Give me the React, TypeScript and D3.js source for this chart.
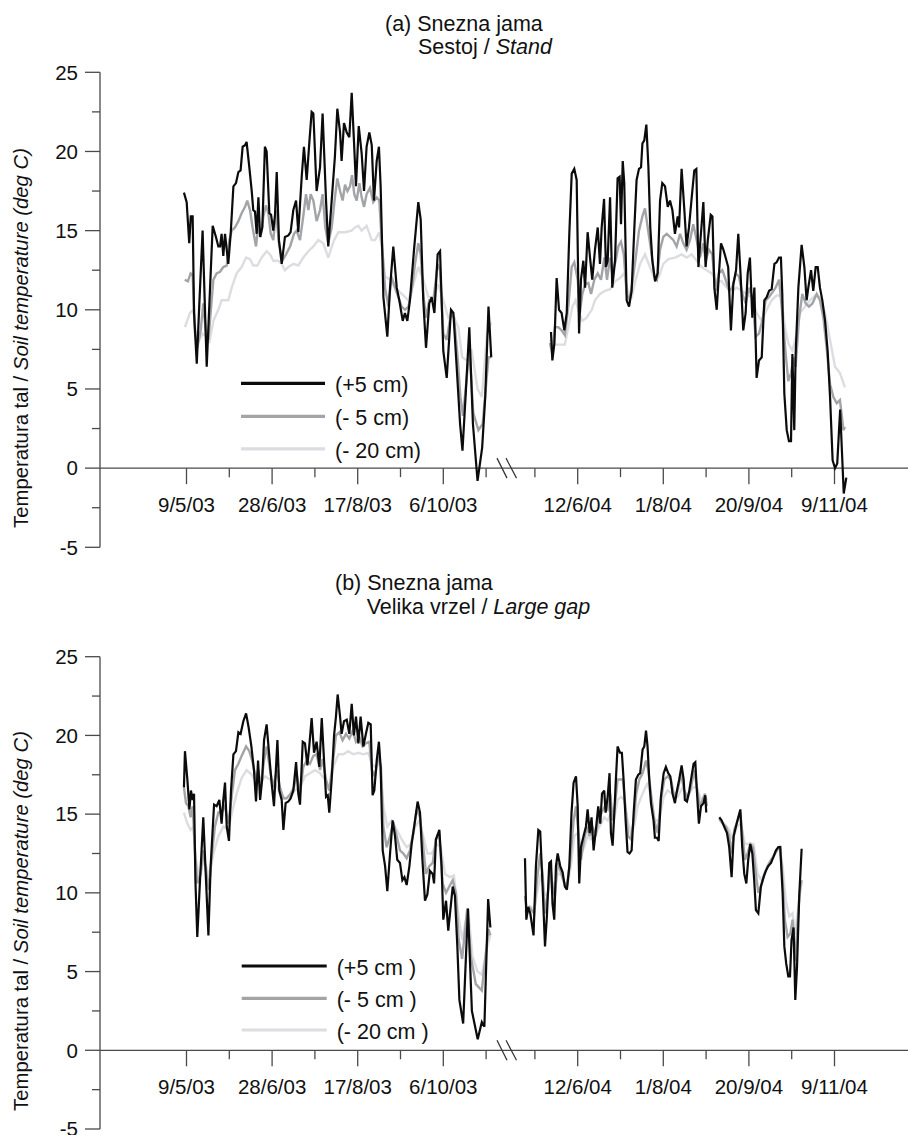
import React from "react";
import * as d3 from "d3";

type Pt = [number, number | null];

// ---------- labels ----------
const LEGEND_A = ["(+5 cm)", "(- 5 cm)", "(- 20 cm)"];
const LEGEND_B = ["(+5 cm )", "(- 5 cm )", "(- 20 cm )"];
const TICKS_2003 = ["9/5/03", "28/6/03", "17/8/03", "6/10/03"];
const TICKS_2004 = ["12/6/04", "1/8/04", "20/9/04", "9/11/04"];
const MINOR_2003 = [25, 75, 125, 175]; // days after first tick date
const MINOR_2004 = [-25, 25, 75, 125];
const Y_TICKS = [-5, 0, 5, 10, 15, 20, 25];
const Y_MINOR = [-2.5, 2.5, 7.5, 12.5, 17.5, 22.5];
const COLORS = ["#0b0b0b", "#a2a4a8", "#dcdde0"];

// ---------- data: [days after first tick date of the season, temperature °C] ----------
// (a) Stand, 2003
const A03_P5: Pt[] = [[-1.5,17.4],[0.1,16.8],[1.6,14.2],[2.5,15.9],[3.6,15.9],[4.4,9.8],[6.0,6.6],[7.5,10.4],[9.4,15.0],[11.8,6.4],[15.3,15.3],[17.2,14.6],[18.6,14.0],[19.6,14.0],[20.5,14.8],[21.5,13.4],[22.5,14.8],[24.4,12.9],[25.8,14.8],[27.4,17.8],[28.9,18.0],[30.3,18.7],[31.6,18.8],[32.8,20.3],[34.2,20.4],[35.1,20.6],[36.7,19.0],[38.1,17.5],[39.0,16.3],[40.0,16.2],[41.0,14.8],[42.0,17.1],[43.0,14.6],[44.3,15.2],[45.8,20.3],[46.8,20.0],[48.4,16.1],[49.4,16.0],[50.7,15.0],[51.7,16.0],[52.7,18.7],[54.0,14.4],[55.6,12.9],[57.5,14.6],[59.5,14.7],[60.8,14.9],[62.4,16.3],[64.0,16.9],[65.3,14.9],[67.3,18.4],[68.6,20.3],[70.2,18.2],[71.7,20.5],[73.1,22.5],[74.1,22.4],[76.0,17.5],[78.0,19.0],[79.5,22.4],[81.5,16.9],[82.8,14.0],[84.8,16.9],[86.7,19.7],[88.1,22.7],[89.7,21.2],[90.6,19.4],[92.0,21.8],[93.6,21.2],[95.1,20.9],[96.5,23.7],[97.8,20.7],[99.0,17.8],[100.6,21.6],[102.3,19.9],[103.7,17.5],[105.2,20.3],[106.8,21.2],[108.2,20.4],[109.5,16.9],[111.1,19.4],[112.4,20.3],[113.4,17.8],[115.0,10.8],[117.3,8.3],[118.9,11.4],[120.8,14.0],[122.8,11.4],[124.3,10.6],[126.3,9.3],[127.6,9.8],[129.0,9.3],[130.5,10.6],[132.9,13.8],[135.4,16.8],[136.8,15.7],[138.3,10.6],[139.9,7.6],[141.8,10.4],[143.2,10.8],[144.8,9.8],[146.7,13.5],[148.1,13.7],[150.0,7.4],[152.0,5.7],[154.5,10.0],[155.9,9.8],[157.8,6.4],[159.8,2.8],[161.2,1.1],[163.0,4.5],[165.2,8.9],[167.3,2.8],[170.0,-0.8],[172.7,1.3],[174.5,4.5],[176.4,10.2],[178.0,7.0]];
const A03_M5: Pt[] = [[-1.0,11.9],[0.8,11.8],[2.4,12.3],[3.6,12.2],[5.0,8.5],[6.3,7.6],[8.3,8.7],[9.8,10.4],[11.4,8.5],[12.8,8.1],[14.7,10.6],[15.7,11.9],[17.6,12.3],[19.6,12.4],[21.5,12.7],[23.5,12.8],[25.0,14.4],[26.4,15.0],[28.3,15.2],[30.3,15.6],[32.2,16.1],[34.2,16.5],[35.5,16.9],[37.1,16.3],[38.6,15.2],[40.6,14.0],[42.0,15.4],[43.3,14.6],[44.9,15.9],[46.4,16.6],[47.8,16.1],[49.2,14.8],[50.7,14.4],[52.3,16.3],[54.0,14.2],[56.0,13.1],[58.1,13.5],[60.5,14.0],[62.8,14.8],[64.3,15.0],[66.3,14.4],[68.2,15.9],[69.8,17.3],[71.2,16.3],[72.5,17.3],[74.1,16.9],[76.0,15.6],[78.0,16.3],[79.5,17.3],[81.1,15.2],[82.8,14.2],[84.8,15.2],[86.7,17.1],[88.1,18.3],[89.7,17.5],[91.2,16.9],[92.6,17.9],[94.0,17.5],[95.5,17.8],[96.7,18.5],[98.0,17.3],[99.4,16.9],[101.0,18.0],[102.3,17.1],[103.7,16.5],[105.2,17.3],[107.2,17.7],[109.1,16.8],[111.1,17.1],[112.6,16.9],[114.0,14.4],[116.0,11.4],[117.9,10.2],[119.8,12.1],[121.8,11.4],[123.7,10.8],[125.7,10.2],[127.6,10.0],[129.6,10.2],[131.5,11.2],[133.5,12.9],[135.4,14.2],[136.8,13.5],[138.3,11.0],[139.9,9.5],[141.8,10.6],[144.2,10.6],[146.7,12.9],[148.1,12.5],[150.0,8.5],[152.0,8.1],[154.5,9.8],[156.3,9.5],[158.2,7.2],[160.0,4.5],[161.5,3.3],[163.5,5.5],[165.2,7.6],[167.5,3.5],[170.5,2.4],[173.0,2.8],[176.4,7.0],[178.0,7.0]];
const A03_M20: Pt[] = [[-0.9,8.9],[2.0,9.8],[4.0,10.0],[5.5,8.5],[7.5,8.1],[9.4,8.5],[11.4,8.3],[13.3,7.9],[15.7,9.3],[18.6,10.0],[20.5,10.6],[24.4,10.6],[26.4,11.4],[29.3,12.3],[32.2,12.7],[34.8,13.3],[37.1,13.2],[39.0,12.8],[41.4,12.8],[43.9,13.3],[46.8,13.7],[48.8,13.5],[50.7,13.1],[53.6,13.1],[55.6,12.9],[57.5,12.5],[59.5,12.7],[62.4,12.9],[65.3,12.8],[68.2,13.3],[71.2,13.7],[74.1,14.0],[77.0,14.4],[79.9,14.2],[82.8,13.3],[85.8,14.3],[88.7,14.9],[92.6,14.9],[96.5,15.0],[98.4,15.2],[100.4,15.3],[102.3,15.0],[105.2,15.3],[108.2,14.4],[110.1,14.4],[112.6,14.9],[114.0,14.0],[116.0,12.1],[118.9,11.9],[121.8,11.4],[125.7,11.0],[129.6,10.6],[132.5,11.6],[135.4,12.7],[138.3,11.9],[141.3,10.8],[144.2,10.8],[147.1,11.6],[150.0,10.6],[152.9,9.5],[155.9,9.6],[158.8,8.9],[161.0,7.0],[164.0,6.8],[166.5,7.5],[170.0,5.0],[172.5,4.5],[175.5,8.5],[178.0,9.2]];
// (a) Stand, 2004
const A04_P5: Pt[] = [[-15.6,8.6],[-14.8,6.8],[-13.6,7.9],[-12.3,12.0],[-10.9,10.0],[-9.4,9.8],[-7.8,8.7],[-6.4,9.8],[-4.9,14.8],[-3.5,18.6],[-2.0,18.9],[-0.6,18.2],[0.8,8.5],[1.9,11.9],[3.3,13.1],[4.3,11.4],[5.8,14.9],[7.2,13.3],[8.5,11.9],[10.1,13.8],[11.7,15.2],[13.0,12.9],[14.0,15.2],[15.4,17.0],[16.5,12.7],[17.5,13.1],[18.9,17.1],[20.2,11.4],[21.8,13.1],[23.3,18.3],[24.5,18.4],[25.3,15.4],[26.3,19.4],[27.2,18.0],[28.6,10.6],[30.0,10.2],[31.5,11.2],[33.1,15.2],[34.4,18.2],[35.8,18.9],[37.0,19.0],[37.8,20.5],[38.9,20.7],[40.1,21.7],[41.3,19.0],[42.4,15.2],[43.6,13.1],[45.2,11.8],[46.7,12.3],[48.1,16.9],[49.4,18.0],[51.0,17.8],[52.6,16.5],[53.9,16.9],[55.3,16.3],[56.8,14.8],[58.4,15.9],[59.2,15.2],[60.7,18.9],[62.3,16.3],[63.6,14.0],[65.0,15.2],[66.6,17.1],[68.1,18.8],[69.3,18.9],[70.5,12.7],[71.4,14.0],[73.4,16.8],[74.7,12.7],[76.0,14.4],[77.7,16.0],[78.7,15.9],[79.8,11.4],[81.2,10.0],[82.5,12.3],[83.7,14.2],[85.1,13.8],[86.4,13.3],[87.9,12.7],[89.5,8.7],[90.9,11.6],[92.5,12.5],[93.8,14.8],[95.2,12.1],[96.7,8.7],[98.1,9.8],[99.3,12.3],[100.6,13.3],[102.0,9.5],[103.2,11.4],[104.5,5.7],[105.9,6.8],[107.5,7.0],[109.0,10.6],[110.4,10.8],[111.8,11.2],[113.3,11.3],[114.9,12.9],[116.2,13.0],[117.6,13.3],[118.7,13.3],[119.5,11.0],[120.7,4.7],[122.1,2.4],[123.4,1.7],[124.6,1.7],[125.4,7.2],[126.5,2.4],[127.3,7.2],[128.9,11.4],[130.8,14.1],[132.4,12.7],[133.7,10.6],[134.7,11.4],[136.3,12.5],[137.6,11.2],[139.0,12.7],[140.2,12.7],[141.5,11.4],[142.9,10.6],[144.5,9.3],[146.0,7.4],[147.4,4.5],[148.9,0.5],[150.3,0.0],[151.6,0.3],[153.3,3.7],[155.4,-1.6],[156.9,-0.6]];
const A04_M5: Pt[] = [[-16.2,7.9],[-14.8,7.2],[-13.3,8.9],[-11.3,8.9],[-9.4,8.7],[-7.5,8.4],[-5.5,10.2],[-3.5,12.7],[-2.0,13.0],[0.0,11.9],[1.3,9.8],[2.7,11.0],[4.3,11.6],[6.2,11.7],[7.8,11.0],[9.7,11.9],[11.7,12.3],[13.6,11.9],[15.6,13.3],[17.1,11.9],[18.9,13.3],[20.2,12.3],[22.2,13.1],[23.7,14.0],[25.3,14.3],[26.9,13.5],[28.6,11.0],[30.2,10.6],[31.9,11.7],[33.9,13.3],[35.8,15.0],[37.8,15.9],[39.3,16.4],[40.9,15.2],[42.8,13.8],[44.8,12.1],[46.3,11.9],[48.1,13.8],[50.0,14.6],[52.0,14.8],[53.9,14.6],[55.9,14.4],[57.8,14.0],[59.8,14.8],[61.7,14.2],[63.6,13.8],[65.6,14.4],[67.5,15.4],[69.5,14.4],[71.4,13.3],[73.4,14.2],[74.7,13.1],[76.7,13.8],[78.6,13.5],[80.6,11.2],[82.5,12.3],[84.5,12.5],[86.4,11.9],[88.4,11.2],[90.3,11.4],[92.3,12.3],[94.2,12.1],[96.2,11.0],[98.1,10.4],[100.1,11.4],[102.0,10.8],[103.9,8.3],[105.9,8.5],[107.8,9.3],[109.8,10.6],[111.7,10.8],[113.7,11.1],[115.6,11.4],[117.6,11.9],[119.5,9.8],[121.5,7.2],[123.0,5.5],[124.6,6.0],[126.0,7.0],[127.3,6.4],[129.3,9.5],[131.2,11.0],[133.2,10.4],[135.1,10.2],[137.1,10.4],[139.6,11.0],[141.5,10.6],[143.5,9.5],[145.4,7.6],[147.4,5.3],[149.3,4.5],[151.3,4.1],[153.2,4.3],[155.2,2.4],[156.1,2.6]];
const A04_M20: Pt[] = [[-16.2,8.1],[-14.2,7.8],[-11.3,7.8],[-7.5,7.8],[-5.5,8.9],[-3.1,10.2],[-1.2,10.6],[0.8,9.8],[2.7,9.3],[5.2,9.5],[8.2,10.0],[10.1,10.6],[13.0,11.0],[15.9,11.2],[18.9,11.3],[21.8,11.8],[24.7,12.0],[27.2,12.3],[29.6,11.0],[31.5,10.8],[33.9,11.9],[36.4,12.9],[39.3,13.5],[42.2,12.7],[45.2,11.9],[47.5,12.1],[50.0,12.9],[52.9,13.2],[56.8,13.3],[60.7,13.5],[63.6,13.3],[66.6,13.5],[69.5,13.1],[72.4,12.7],[75.3,12.5],[78.3,12.3],[81.2,11.8],[84.1,11.8],[87.0,11.4],[90.0,11.2],[92.9,11.4],[95.8,11.2],[98.7,11.0],[101.6,10.8],[104.5,9.8],[107.5,9.3],[110.4,10.0],[113.3,10.6],[116.2,10.9],[118.7,10.9],[121.1,8.9],[123.0,7.9],[125.4,7.4],[127.9,8.5],[129.9,9.8],[132.8,10.2],[135.7,10.6],[138.6,10.9],[141.5,10.8],[144.5,9.8],[147.4,8.1],[150.3,6.4],[153.2,6.0],[156.1,5.1]];
// (b) Large gap, 2003
const B03_P5: Pt[] = [[-1.5,16.7],[-0.9,19.0],[0.5,17.2],[1.7,15.3],[2.6,16.5],[3.6,15.9],[4.4,16.3],[5.2,10.8],[6.3,7.2],[7.9,10.8],[9.8,14.8],[11.4,10.8],[12.8,7.3],[14.1,11.7],[16.1,15.6],[17.6,15.5],[19.2,15.9],[20.5,14.4],[21.5,15.9],[22.5,17.0],[23.5,14.2],[24.8,13.3],[26.0,16.5],[27.4,18.8],[28.9,19.0],[30.3,20.2],[31.6,20.1],[33.2,20.9],[34.8,21.4],[36.3,20.5],[37.9,19.3],[39.4,17.8],[40.6,15.8],[41.8,18.4],[43.0,15.9],[44.2,17.2],[45.3,19.7],[46.8,20.7],[48.2,18.9],[49.7,17.0],[51.1,15.5],[52.3,18.0],[53.1,19.7],[54.2,16.5],[55.6,15.9],[56.6,14.0],[57.9,15.7],[59.5,15.8],[60.8,16.0],[62.4,16.5],[64.0,18.3],[65.3,16.3],[66.3,15.6],[67.9,19.6],[69.2,19.5],[70.6,18.1],[71.7,19.3],[73.1,21.1],[74.5,18.9],[76.0,19.6],[77.6,18.0],[79.0,21.1],[80.3,18.5],[81.5,16.1],[82.5,16.2],[83.4,15.1],[84.8,17.2],[86.2,20.0],[87.3,21.2],[88.3,22.6],[89.7,21.2],[90.6,20.1],[92.0,20.9],[93.6,21.0],[95.1,20.1],[96.5,22.0],[97.8,20.0],[99.0,21.2],[100.4,19.5],[101.7,21.2],[103.3,19.3],[104.8,20.1],[106.2,20.8],[107.6,20.7],[108.7,16.2],[109.7,16.5],[111.1,18.4],[112.4,19.6],[113.4,18.0],[114.6,12.7],[116.0,11.7],[117.3,10.1],[118.9,12.5],[120.4,14.6],[121.8,13.6],[123.1,12.1],[124.7,11.9],[126.1,10.8],[127.3,11.0],[128.6,10.5],[130.2,11.7],[131.5,13.1],[133.5,14.6],[135.0,15.8],[136.4,15.1],[137.8,12.1],[139.3,9.5],[140.7,9.9],[142.2,11.4],[143.8,11.2],[144.6,10.6],[145.7,13.4],[147.7,14.0],[149.0,11.7],[150.0,8.3],[151.6,9.5],[152.9,7.6],[155.5,10.4],[156.8,9.8],[158.2,6.6],[159.4,3.2],[161.6,1.7],[164.4,9.0],[166.7,2.5],[170.1,0.7],[172.5,1.8],[174.0,1.5],[176.2,9.6],[177.5,7.8]];
const B03_M5: Pt[] = [[-1.5,16.7],[-0.3,15.7],[1.1,15.5],[2.4,14.8],[3.6,15.5],[5.0,12.5],[6.3,10.6],[8.3,11.2],[9.8,12.7],[11.4,11.4],[13.1,10.2],[14.7,12.3],[16.6,14.2],[18.6,15.1],[20.5,15.1],[22.5,15.5],[24.4,14.4],[26.4,16.1],[28.3,17.8],[30.3,18.2],[32.2,18.7],[34.8,19.3],[36.7,19.0],[38.6,18.3],[40.6,17.2],[42.0,17.8],[43.3,16.7],[45.3,18.4],[46.8,19.3],[48.8,17.8],[50.7,16.7],[52.7,17.8],[54.6,16.7],[56.6,16.0],[58.5,16.0],[60.8,16.3],[62.8,16.7],[64.3,17.6],[66.3,16.3],[68.2,18.0],[70.2,18.4],[72.1,18.2],[74.1,18.7],[76.0,18.8],[78.0,17.8],[79.5,18.5],[81.5,17.2],[83.4,16.5],[85.4,18.2],[87.3,20.0],[89.3,20.2],[91.2,19.7],[93.2,20.1],[95.1,19.8],[97.1,20.3],[99.0,19.6],[101.0,19.9],[102.9,19.3],[104.8,19.5],[106.8,19.6],[108.3,17.8],[110.1,17.4],[112.0,18.7],[113.6,18.0],[115.0,14.2],[116.9,12.9],[118.9,13.6],[120.8,14.5],[122.8,13.6],[124.7,12.7],[126.7,12.5],[128.6,12.2],[130.5,12.7],[132.5,13.8],[134.4,15.3],[136.4,14.8],[138.3,12.9],[139.9,11.2],[141.8,11.7],[143.8,11.9],[145.7,13.4],[147.7,13.6],[149.6,10.6],[151.6,10.0],[153.5,10.4],[155.5,10.8],[157.4,10.0],[159.0,7.0],[161.0,5.8],[164.0,9.0],[166.0,6.0],[169.0,4.2],[172.5,3.8],[176.4,7.7],[177.5,7.3]];
const B03_M20: Pt[] = [[-1.5,15.1],[0.5,14.4],[2.4,14.0],[4.0,14.2],[5.5,12.1],[7.5,11.0],[9.4,11.9],[11.4,11.7],[13.3,11.0],[15.7,12.5],[18.6,13.6],[21.5,14.2],[24.4,14.0],[27.0,15.3],[29.3,16.3],[32.2,17.3],[35.1,17.8],[38.1,17.5],[40.6,17.0],[43.0,17.0],[45.9,17.4],[48.8,17.2],[51.7,17.0],[54.6,16.3],[57.5,16.0],[60.5,16.1],[63.4,16.5],[66.3,16.7],[69.2,17.4],[72.1,17.6],[75.1,17.8],[78.0,17.6],[80.9,17.2],[83.4,16.5],[85.8,18.0],[88.7,18.8],[91.6,18.8],[94.5,19.0],[97.4,18.8],[100.4,18.9],[103.3,18.8],[106.2,18.9],[108.2,18.2],[110.1,18.0],[113.0,18.2],[115.0,15.5],[117.3,14.2],[119.8,14.6],[122.8,14.0],[125.7,13.4],[128.6,12.9],[131.0,13.1],[133.5,14.2],[136.0,14.6],[138.3,13.6],[140.7,12.5],[143.2,12.5],[146.1,13.1],[148.5,12.9],[151.0,11.2],[153.9,11.0],[156.2,11.1],[158.7,8.7],[161.0,7.0],[164.5,9.0],[167.0,6.0],[170.0,5.0],[172.5,4.8],[175.5,6.5],[177.5,7.3]];
// (b) Large gap, 2004 (null = missing record)
const B04_P5: Pt[] = [[-30.8,12.2],[-30.0,8.3],[-28.9,9.1],[-27.7,8.7],[-25.8,7.3],[-24.4,11.7],[-23.0,14.0],[-21.9,13.9],[-20.5,10.4],[-19.1,6.6],[-18.0,8.5],[-16.6,11.9],[-15.6,12.0],[-14.7,9.3],[-13.7,8.3],[-12.7,11.7],[-11.7,12.5],[-10.2,11.7],[-8.8,11.3],[-7.5,10.4],[-6.3,10.2],[-4.9,11.7],[-3.6,15.1],[-2.4,17.0],[-1.0,17.4],[0.0,15.5],[0.9,10.6],[1.9,12.9],[3.4,13.6],[4.8,14.2],[5.8,15.3],[7.0,13.8],[8.1,14.8],[9.3,12.7],[10.6,14.0],[12.0,15.5],[13.2,14.4],[14.2,16.3],[15.5,16.5],[16.3,15.1],[17.5,16.1],[18.6,17.6],[19.4,13.8],[20.4,13.0],[21.4,15.1],[22.3,17.2],[23.3,19.3],[24.7,18.9],[25.8,18.9],[26.8,17.2],[28.0,14.6],[29.1,12.6],[30.3,12.5],[31.5,12.7],[32.7,15.1],[34.0,17.2],[35.4,17.5],[36.5,17.6],[37.9,19.1],[38.9,19.3],[39.9,20.3],[40.8,19.3],[41.8,17.2],[42.8,15.7],[44.3,14.6],[45.1,13.5],[46.3,13.5],[47.3,13.3],[48.6,16.1],[50.2,17.6],[51.5,18.0],[52.9,17.6],[54.1,17.4],[55.4,16.3],[56.8,15.7],[58.0,16.5],[59.3,17.2],[60.7,18.1],[61.9,17.2],[62.6,15.9],[63.8,15.8],[65.2,16.5],[66.5,17.4],[67.7,18.2],[68.7,18.3],[69.6,16.5],[70.8,14.4],[72.0,15.5],[73.5,15.7],[74.5,16.2],[75.1,15.1],[78.0,null],[82.7,14.8],[84.1,14.6],[85.6,14.2],[87.2,13.8],[88.5,12.9],[89.9,11.0],[91.1,13.6],[92.4,14.2],[93.8,14.8],[95.0,15.3],[96.1,12.9],[97.3,11.2],[98.5,10.6],[99.6,12.1],[100.8,13.1],[102.0,12.5],[103.1,10.8],[104.1,8.9],[105.5,8.7],[107.0,10.4],[108.6,11.0],[109.9,11.4],[111.3,11.7],[112.9,11.9],[114.4,12.3],[115.8,12.7],[117.2,12.9],[118.3,12.9],[119.7,10.0],[120.7,6.6],[121.8,5.5],[123.0,4.7],[124.0,4.7],[124.9,7.0],[126.1,7.8],[127.1,3.2],[128.1,5.3],[129.4,9.8],[130.8,12.8]];
const B04_M5: Pt[] = [[-30.8,9.8],[-29.7,8.9],[-28.3,9.1],[-26.9,8.9],[-25.4,8.7],[-23.8,10.8],[-21.9,12.5],[-20.5,11.2],[-19.1,8.7],[-17.6,9.8],[-16.0,11.7],[-14.7,10.4],[-13.3,9.8],[-11.7,11.9],[-9.8,11.3],[-7.8,10.6],[-6.3,10.4],[-4.3,12.1],[-2.4,14.6],[-1.0,15.5],[0.3,14.0],[1.9,12.1],[3.8,13.4],[5.4,14.2],[7.0,13.6],[8.7,14.2],[10.5,13.6],[12.0,14.6],[14.0,15.1],[15.9,15.5],[17.5,15.3],[19.0,16.3],[20.4,14.6],[21.7,15.5],[23.3,17.2],[24.9,17.2],[26.4,17.2],[28.2,15.1],[29.5,13.6],[31.1,13.4],[32.7,14.6],[34.2,16.3],[36.0,17.2],[37.9,17.6],[39.9,18.4],[41.2,17.8],[42.8,16.3],[44.7,14.6],[46.7,13.8],[48.6,15.9],[50.6,17.2],[52.5,17.4],[54.5,17.2],[56.4,16.1],[58.4,16.5],[60.3,17.6],[62.2,16.5],[64.2,16.0],[66.1,16.7],[68.1,17.8],[69.6,16.7],[71.2,15.5],[73.0,15.9],[74.3,16.3],[75.5,15.5],[78.0,null],[82.7,14.7],[84.6,14.4],[86.6,14.2],[88.5,13.6],[89.9,12.5],[91.5,14.0],[93.4,14.6],[95.0,15.1],[96.3,13.6],[97.7,12.1],[99.2,12.5],[100.8,13.1],[102.4,12.9],[104.1,11.2],[105.5,10.0],[107.0,10.4],[109.0,11.2],[110.9,11.7],[112.9,12.1],[114.8,12.4],[116.8,12.8],[118.3,12.9],[119.7,10.8],[121.0,8.3],[122.6,7.2],[124.2,7.4],[125.5,8.3],[126.9,5.7],[128.1,7.4],[129.6,10.0],[130.8,10.8]];
const B04_M20: Pt[] = [[-30.8,8.9],[-29.3,8.7],[-27.3,9.1],[-25.4,8.9],[-23.4,10.2],[-21.5,11.2],[-19.5,10.0],[-17.6,9.8],[-15.6,11.0],[-13.7,10.2],[-11.7,11.2],[-9.8,11.2],[-7.8,10.6],[-5.9,10.6],[-4.0,11.7],[-2.0,13.6],[0.0,13.8],[1.9,12.5],[3.8,12.9],[5.8,13.6],[7.7,13.4],[9.7,13.6],[11.6,14.0],[13.6,14.4],[15.5,14.8],[17.5,14.6],[19.4,15.1],[21.4,14.8],[23.3,15.9],[25.3,16.1],[27.2,15.9],[29.1,14.6],[31.1,13.8],[33.0,14.2],[35.0,15.5],[37.9,16.3],[40.8,17.0],[42.8,16.1],[45.1,14.6],[47.6,14.6],[50.2,16.1],[52.5,16.5],[55.4,16.3],[58.4,16.1],[61.3,16.7],[64.2,16.1],[67.1,16.7],[69.6,16.7],[72.0,15.9],[74.3,16.2],[75.5,15.9],[78.0,null],[82.7,14.6],[85.6,14.4],[88.5,14.0],[90.5,13.4],[93.0,14.2],[95.3,14.4],[97.7,13.1],[100.2,13.1],[102.7,13.1],[105.1,11.2],[107.4,10.8],[109.9,11.4],[112.5,11.9],[114.8,12.4],[117.7,12.9],[119.7,11.7],[121.6,9.5],[123.6,8.5],[125.5,8.7],[126.9,7.4],[128.4,8.7],[130.8,10.8]];

// ---------- layout ----------
const W = 908;
const H = 1135;
const FONT = "'Liberation Sans', Arial, Helvetica, sans-serif";
const AXIS_X = 100;
const parse = d3.utcParse("%d/%m/%y");
const DAY = 864e5;

const x03 = d3
  .scaleUtc()
  .domain([parse(TICKS_2003[0])!, parse(TICKS_2003[3])!])
  .range([186.5, 443.3]);
const x04 = d3
  .scaleUtc()
  .domain([parse(TICKS_2004[0])!, parse(TICKS_2004[3])!])
  .range([577.7, 834.5]);

const offsetDate = (ref: Date, d: number) => new Date(ref.getTime() + d * DAY);

interface PanelProps {
  yRange: [number, number];
  title1: string;
  title2: string;
  title2i: string;
  t1: [number, number];
  t2: [number, number];
  legend: string[];
  legendY: number[];
  legendX: [number, number, number];
  labelCenter: number;
  s03: Pt[][];
  s04: Pt[][];
}

function Panel(p: PanelProps) {
  const y = d3.scaleLinear().domain([-5, 25]).range(p.yRange);
  const y0 = y(0);
  const ref03 = parse(TICKS_2003[0])!;
  const ref04 = parse(TICKS_2004[0])!;
  const mk = (xs: d3.ScaleTime<number, number>, ref: Date) =>
    d3
      .line<Pt>()
      .defined((q) => q[1] !== null)
      .x((q) => xs(offsetDate(ref, q[0])))
      .y((q) => y(q[1] as number));
  const l03 = mk(x03, ref03);
  const l04 = mk(x04, ref04);
  const order = [2, 1, 0];
  const axisColor = "#4a4a4a";
  const majors = [
    ...TICKS_2003.map((t) => ({ x: x03(parse(t)!), label: t })),
    ...TICKS_2004.map((t) => ({ x: x04(parse(t)!), label: t })),
  ];
  const minors = [
    ...MINOR_2003.map((d) => x03(offsetDate(ref03, d))),
    ...MINOR_2004.map((d) => x04(offsetDate(ref04, d))),
  ];
  return (
    <g fontFamily={FONT}>
      <text x={p.t1[0]} y={p.t1[1]} fontSize={21.5} fill="#111">
        {p.title1}
      </text>
      <text x={p.t2[0]} y={p.t2[1]} fontSize={21.5} fill="#111">
        {p.title2}
        <tspan fontStyle="italic">{p.title2i}</tspan>
      </text>
      <text
        transform={`translate(28,${p.labelCenter}) rotate(-90)`}
        textAnchor="middle"
        fontSize={20.3}
        fill="#111"
      >
        {"Temperatura tal / "}
        <tspan fontStyle="italic">Soil temperature (deg C)</tspan>
      </text>
      {/* y axis */}
      <line x1={AXIS_X} x2={AXIS_X} y1={y(25)} y2={y(-5)} stroke={axisColor} strokeWidth={1.3} />
      {Y_TICKS.map((t) => (
        <g key={"yt" + t}>
          <line x1={AXIS_X - 15} x2={AXIS_X} y1={y(t)} y2={y(t)} stroke={axisColor} strokeWidth={1.3} />
          <text x={AXIS_X - 22} y={y(t) + 7.3} textAnchor="end" fontSize={20.5} fill="#111">
            {t}
          </text>
        </g>
      ))}
      {Y_MINOR.map((t) => (
        <line key={"ym" + t} x1={AXIS_X - 8} x2={AXIS_X} y1={y(t)} y2={y(t)} stroke={axisColor} strokeWidth={1.3} />
      ))}
      {/* x axis */}
      <line x1={AXIS_X} x2={W} y1={y0} y2={y0} stroke={axisColor} strokeWidth={1.3} />
      {majors.map((m) => (
        <g key={"xt" + m.label}>
          <line x1={m.x} x2={m.x} y1={y0} y2={y0 + 16} stroke={axisColor} strokeWidth={1.3} />
          <text x={m.x} y={y0 + 44} textAnchor="middle" fontSize={20.5} fill="#111">
            {m.label}
          </text>
        </g>
      ))}
      {minors.map((mx, i) => (
        <line key={"xm" + i} x1={mx} x2={mx} y1={y0} y2={y0 + 9} stroke={axisColor} strokeWidth={1.3} />
      ))}
      {/* axis break */}
      <line x1={497} x2={507} y1={y0 - 10} y2={y0 + 10} stroke="#333" strokeWidth={1.2} />
      <line x1={506} x2={516.5} y1={y0 - 10} y2={y0 + 10} stroke="#333" strokeWidth={1.2} />
      {/* series */}
      {order.map((i) => (
        <g key={"s" + i}>
          <path d={l03(p.s03[i]) || ""} fill="none" stroke={COLORS[i]} strokeWidth={i === 0 ? 2.2 : 2.4} strokeLinejoin="miter" strokeMiterlimit={3} />
          <path d={l04(p.s04[i]) || ""} fill="none" stroke={COLORS[i]} strokeWidth={i === 0 ? 2.2 : 2.4} strokeLinejoin="miter" strokeMiterlimit={3} />
        </g>
      ))}
      {/* legend */}
      {p.legend.map((lab, i) => (
        <g key={"lg" + i}>
          <line x1={p.legendX[0]} x2={p.legendX[1]} y1={p.legendY[i]} y2={p.legendY[i]} stroke={COLORS[i]} strokeWidth={3.2} />
          <text x={p.legendX[2]} y={p.legendY[i] + 8.7} fontSize={21.5} fill="#111">
            {lab}
          </text>
        </g>
      ))}
    </g>
  );
}

export default function App() {
  return (
    <svg
      width={W}
      height={H}
      viewBox={`0 0 ${W} ${H}`}
      style={{ position: "absolute", left: 0, top: 0, background: "#fff" }}
    >
      <rect width={W} height={H} fill="#fff" />
      <Panel
        yRange={[547.3, 72.3]}
        title1="(a) Snezna jama"
        title2="Sestoj / "
        title2i="Stand"
        t1={[385, 30.6]}
        t2={[418, 54.3]}
        legend={LEGEND_A}
        legendY={[383.3, 416.3, 448.8]}
        legendX={[241, 325, 335]}
        labelCenter={338}
        s03={[A03_P5, A03_M5, A03_M20]}
        s04={[A04_P5, A04_M5, A04_M20]}
      />
      <Panel
        yRange={[1129, 656.7]}
        title1="(b) Snezna jama"
        title2="Velika vrzel / "
        title2i="Large gap"
        t1={[335, 589.8]}
        t2={[366.7, 614]}
        legend={LEGEND_B}
        legendY={[966, 998.3, 1030]}
        legendX={[241.7, 326.7, 336.7]}
        labelCenter={921}
        s03={[B03_P5, B03_M5, B03_M20]}
        s04={[B04_P5, B04_M5, B04_M20]}
      />
    </svg>
  );
}
